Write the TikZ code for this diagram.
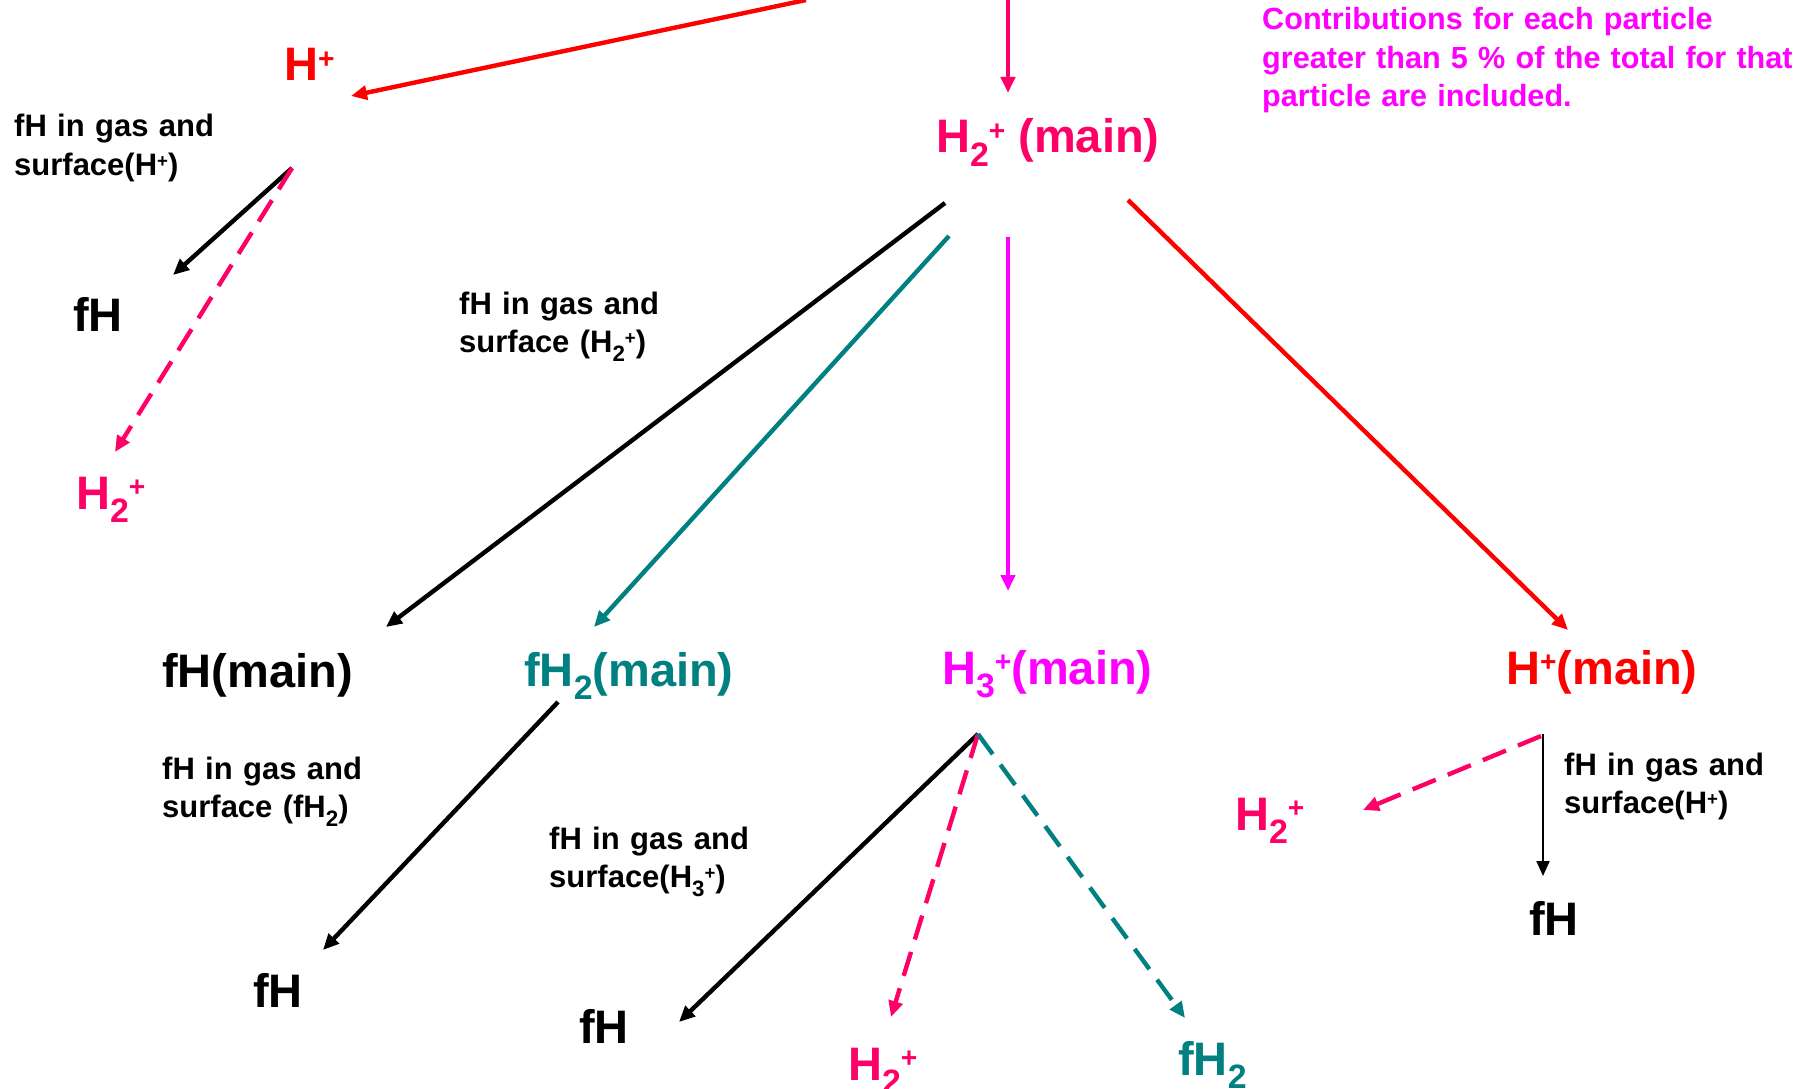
\documentclass[tikz,border=0pt]{standalone}
\usepackage{fontspec}
\setmainfont{Liberation Sans}
\usepackage{graphicx}
\usetikzlibrary{arrows.meta, calc}
\definecolor{ionred}{HTML}{FF0000}
\definecolor{ionpink}{HTML}{FF0066}
\definecolor{ionmagenta}{HTML}{FF00FF}
\definecolor{molteal}{HTML}{008080}
\newcommand{\chsub}[1]{\raisebox{-0.28em}{\scalebox{0.72}{#1}}}
\newcommand{\chsup}[1]{\raisebox{0.27em}{\scalebox{0.6}{#1}}}

\begin{document}
\begin{tikzpicture}[x=1pt, y=-1pt,
    species/.style={inner sep=0pt, anchor=base west, font=\bfseries\fontsize{47}{56}\selectfont},
    remark/.style={inner sep=0pt, anchor=base west, align=left, text width=620pt,
                   font=\bfseries\fontsize{31}{38.5}\selectfont},
    link/.style={line width=4.4pt, -{Triangle[length=16pt,width=14pt]}},
    dashlink/.style={link, dash pattern=on 25pt off 13pt},
    thinlink/.style={line width=1.8pt, -{Triangle[length=15pt,width=13pt]}}]
  \useasboundingbox (0,0) rectangle (1809,1089);

  % species, top part
  \node[species, text=ionred] (hplus) at (284,81) {H\chsup{+}};
  \node[remark] (gasHplus) at (14,137) {fH in gas and\\surface(H\chsup{+})};
  \node[species] (fhA) at (73,331) {fH};
  \node[species, text=ionpink] (htwoA) at (76,509) {H\chsub{2}\chsup{+}};
  \node[species, text=ionpink] (htwomain) at (936,153) {H\chsub{2}\chsup{+} (main)};
  \node[remark, text=ionmagenta, font=\bfseries\fontsize{30.6}{38.5}\selectfont] (rule) at (1262,30)
    {Contributions for each particle\\greater than 5 \% of the total for that\\particle are included.};
  \node[remark] (gasHtwo) at (459,314) {fH in gas and\\surface (H\chsub{2}\chsup{+})};

  % main row
  \node[species] (fhmain) at (162,687) {fH(main)};
  \node[species, text=molteal] (fhtwomain) at (524,686) {fH\chsub{2}(main)};
  \node[species, text=ionmagenta] (hthreemain) at (942,684) {H\chsub{3}\chsup{+}(main)};
  \node[species, text=ionred] (hplusmain) at (1506,684) {H\chsup{+}(main)};

  % bottom part
  \node[remark] (gasfHtwo) at (162,779) {fH in gas and\\surface (fH\chsub{2})};
  \node[species] (fhC) at (253,1007) {fH};
  \node[remark] (gasHthree) at (549,849) {fH in gas and\\surface(H\chsub{3}\chsup{+})};
  \node[species] (fhD) at (579,1043) {fH};
  \node[species, text=ionpink] (htwoD) at (848,1080) {H\chsub{2}\chsup{+}};
  \node[species, text=molteal] (fhtwoD) at (1178,1075) {fH\chsub{2}};
  \node[species, text=ionpink] (htwoE) at (1235,830) {H\chsub{2}\chsup{+}};
  \node[remark] (gasHplusB) at (1564,775) {fH in gas and\\surface(H\chsup{+})};
  \node[species] (fhE) at (1529,935) {fH};

  \coordinate (fromred) at (806,0);
  \coordinate (frompink) at (1008,0);

  % connectors
  \draw[link, ionred] (fromred) -- ($(hplus.base west)+(67,15)$);
  \draw[link, ionpink] (frompink) -- ($(htwomain.base west)+(72,-60)$);
  \draw[link] ($(hplus.base west)+(8,87)$) -- ($(fhA.base west)+(100,-56)$);
  \draw[dashlink, ionpink] ($(hplus.base west)+(8,87)$) -- ($(htwoA.base west)+(39,-57)$);
  \draw[link] ($(htwomain.base west)+(9,50)$) -- ($(fhmain.base west)+(224,-60)$);
  \draw[link, molteal] ($(htwomain.base west)+(13,83)$) -- ($(fhtwomain.base west)+(70,-59)$);
  \draw[link, ionmagenta] ($(htwomain.base west)+(72,84)$) -- ($(hthreemain.base west)+(66,-93)$);
  \draw[link, ionred] ($(htwomain.base west)+(192,47)$) -- ($(hplusmain.base west)+(62,-54)$);
  \draw[link] ($(fhtwomain.base west)+(34,16)$) -- ($(fhC.base west)+(70,-57)$);
  \draw[link] ($(hthreemain.base west)+(36,50)$) -- ($(fhD.base west)+(100,-21)$);
  \draw[dashlink, ionpink] ($(hthreemain.base west)+(36,50)$) -- ($(htwoD.base west)+(43,-63)$);
  \draw[dashlink, molteal] ($(hthreemain.base west)+(36,50)$) -- ($(fhtwoD.base west)+(7,-57)$);
  \draw[dashlink, ionpink] ($(hplusmain.base west)+(35,52)$) -- ($(htwoE.base west)+(128,-20)$);
  \draw[thinlink] ($(hplusmain.base west)+(37,50)$) -- ($(fhE.base west)+(14,-59)$);
\end{tikzpicture}
\end{document}
